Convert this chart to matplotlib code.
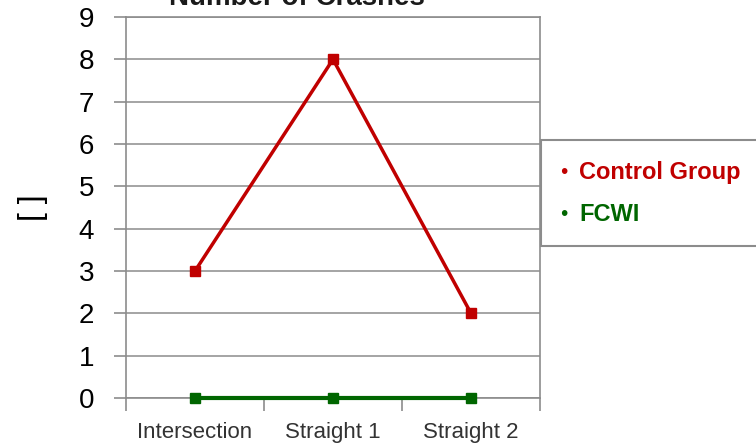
import matplotlib
matplotlib.use("Agg")
import matplotlib.pyplot as plt
from matplotlib.patches import Rectangle

categories = ["Intersection", "Straight 1", "Straight 2"]
control_group = [3, 8, 2]
fcwi = [0, 0, 0]
series_names = ["Control Group", "FCWI"]
y_ticks = list(range(0, 10))

red = "#C00000"
green = "#006600"
gray = "#8C8C8C"

plt.rcParams['font.family'] = ['Liberation Sans', 'DejaVu Sans']

fig = plt.figure(figsize=(7.56, 4.46), dpi=100)
ax = fig.add_axes([126/756, 1-398/446, (540-126)/756, (398-17)/446])

x = list(range(len(categories)))
ax.plot(x, control_group, color=red, lw=2.5, marker='s', ms=7, zorder=3, clip_on=False)
ax.plot(x, fcwi, color=green, lw=3, marker='s', ms=7, zorder=3, clip_on=False)

ax.set_xlim(-0.5, len(categories) - 0.5)
ax.set_ylim(0, 9)
ax.set_yticks(y_ticks)
ax.set_yticklabels([str(v) for v in y_ticks], fontsize=20, color='black')
ax.set_xticks([i - 0.5 for i in range(len(categories) + 1)])
ax.set_xticklabels([])
ax.set_xticks(x, minor=True)
ax.set_xticklabels(categories, minor=True, fontsize=16, color='#333333')
ax.tick_params(axis='x', which='minor', length=0, pad=17.5)
ax.tick_params(axis='x', which='major', length=9, width=1.2, color=gray, direction='out')
ax.tick_params(axis='y', length=9, width=1.2, color=gray, direction='out', pad=14)

ax.grid(axis='y', color=gray, lw=1.1)
ax.set_axisbelow(True)
for s in ax.spines.values():
    s.set_color(gray)
    s.set_linewidth(1.2)

ax.set_ylabel("[ ]", fontsize=23, labelpad=22)

fig.text(297/756, 1-5/446, "Number of Crashes", ha='center', va='baseline',
         fontsize=20, fontweight='bold', color='#1a1a1a')

# legend box
fig.patches.append(Rectangle((541/756, 1-246/446), 0.5, (246-140)/446,
                             transform=fig.transFigure, facecolor='white',
                             edgecolor=gray, lw=1.5, zorder=5))
for name, col, yy in zip(series_names, [red, green], [172, 214]):
    fig.text(564/756, 1-yy/446, "\u2022", ha='center', va='center',
             fontsize=15, color=col, zorder=6)
    fig.text(579/756, 1-yy/446, name, ha='left', va='center',
             fontsize=17, fontweight='bold', color=col, zorder=6)

fig.savefig("out.png", dpi=100)
